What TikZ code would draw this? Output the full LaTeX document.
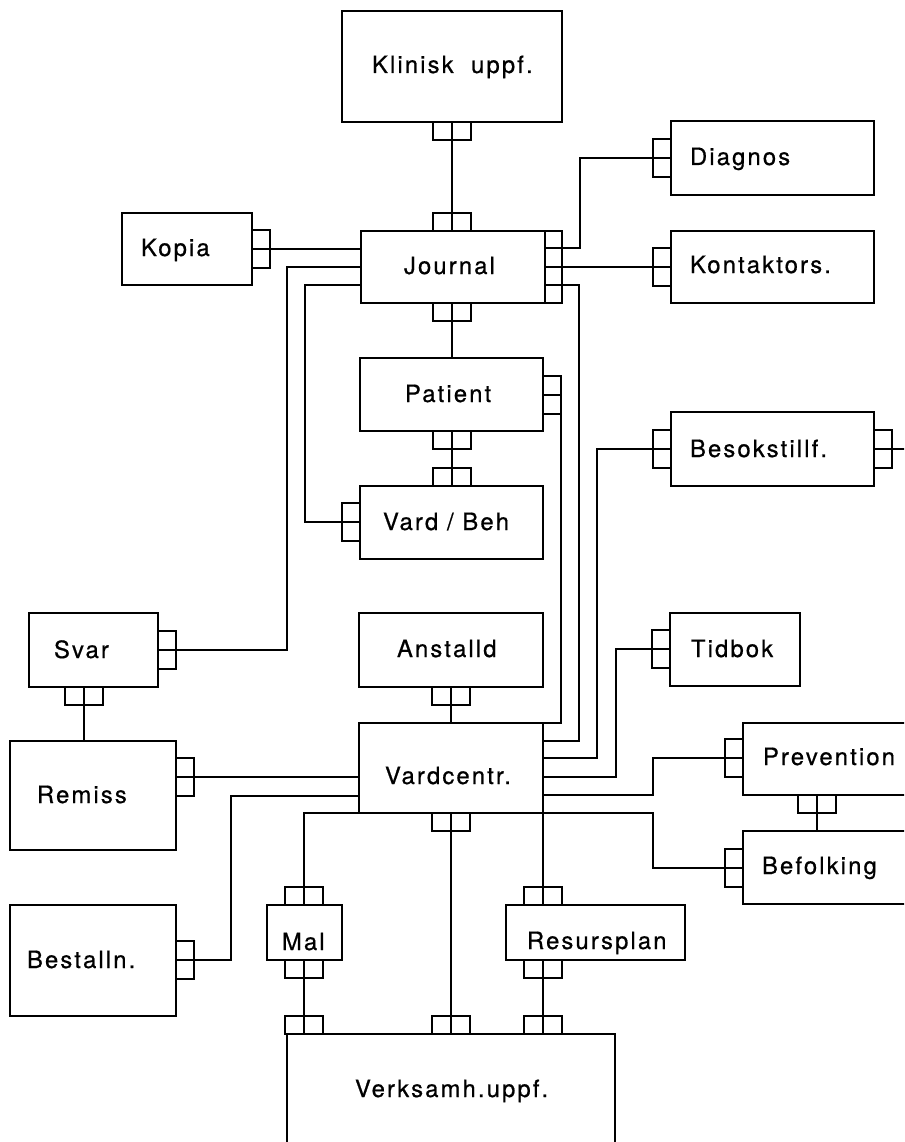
\documentclass[tikz,border=0pt]{standalone}
\usepackage{fontspec}
\setmainfont{TeX Gyre Heros}[LetterSpace=9,FakeBold=0.7]
\begin{document}
\begin{tikzpicture}[x=1pt,y=-1pt,line width=2.4pt,
  ent/.style 2 args={draw, rectangle, inner sep=0pt, outer sep=0pt,
    minimum width=#1, minimum height=#2},
  lbl/.style={inner sep=0pt, outer sep=0pt, anchor=base west,
    font=\fontsize{23.8}{28}\selectfont},
  ph/.style={draw, rectangle, inner sep=0pt, outer sep=0pt,
    minimum width=38pt, minimum height=18pt,
    path picture={\draw[line width=2.4pt] (path picture bounding box.north)
      -- (path picture bounding box.south);}},
  pv/.style={draw, rectangle, inner sep=0pt, outer sep=0pt,
    minimum width=18pt, minimum height=38pt,
    path picture={\draw[line width=2.4pt] (path picture bounding box.west)
      -- (path picture bounding box.east);}}
]
\fill[white] (0,0) rectangle (904,1142);
\useasboundingbox (0,0) rectangle (904,1142);
\clip (0,0) rectangle (904,1142);

% entity boxes
\node[ent={220pt}{111pt}] (klinisk) at (452,66.5) {};
\node[ent={130pt}{72pt}] (kopia) at (187,249) {};
\node[ent={201pt}{72pt}] (journal) at (461.5,267) {};
\node[ent={203pt}{74pt}] (diagnos) at (772.5,158) {};
\node[ent={203pt}{72pt}] (kontaktors) at (772.5,267) {};
\node[ent={183pt}{73pt}] (patient) at (451.5,394.5) {};
\node[ent={203pt}{74pt}] (besok) at (772.5,449) {};
\node[ent={183pt}{73pt}] (vardbeh) at (451.5,522.5) {};
\node[ent={129pt}{74pt}] (svar) at (93.5,650) {};
\node[ent={184pt}{74pt}] (anstalld) at (451,650) {};
\node[ent={130pt}{73pt}] (tidbok) at (735,649.5) {};
\node[ent={166pt}{109pt}] (remiss) at (93,795.5) {};
\node[ent={184pt}{90pt}] (vardcentr) at (451,768) {};
\node[ent={217pt}{72pt}] (prevention) at (851.5,759) {};
\node[ent={217pt}{73pt}] (befolking) at (851.5,867.5) {};
\node[ent={166pt}{111pt}] (bestalln) at (93,960.5) {};
\node[ent={75pt}{55pt}] (mal) at (304.5,932.5) {};
\node[ent={179pt}{55pt}] (resursplan) at (595.5,932.5) {};
\node[ent={328pt}{126pt}] (verksamh) at (451,1097) {};

% labels
\node[lbl] (t-klinisk) at (372,73) {Klinisk~~uppf.};
\node[lbl] (t-kopia) at (141,256) {Kopia};
\node[lbl] (t-journal) at (404,274) {Journal};
\node[lbl] (t-diagnos) at (690,165) {Diagnos};
\node[lbl] (t-kontaktors) at (690,273) {Kontaktors.};
\node[lbl] (t-patient) at (405,402) {Patient};
\node[lbl] (t-besok) at (690,457) {Besokstillf.};
\node[lbl] (t-vardbeh) at (383,530) {Vard / Beh};
\node[lbl] (t-svar) at (54,658) {Svar};
\node[lbl] (t-anstalld) at (397,657) {Anstalld};
\node[lbl] (t-tidbok) at (691,657) {Tidbok};
\node[lbl] (t-remiss) at (37,803) {Remiss};
\node[lbl] (t-vardcentr) at (385,784) {Vardcentr.};
\node[lbl] (t-prevention) at (763,765) {Prevention};
\node[lbl] (t-befolking) at (762,874) {Befolking};
\node[lbl] (t-bestalln) at (27,968) {Bestalln.};
\node[lbl] (t-mal) at (282,950) {Mal};
\node[lbl] (t-resursplan) at (527,949) {Resursplan};
\node[lbl] (t-verksamh) at (355,1097) {Verksamh.uppf.};

% connector symbols on top and bottom edges
\node[ph] (kl-s) at (452,131) {};
\node[ph] (jo-n) at (452,222) {};
\node[ph] (jo-s) at (452,312) {};
\node[ph] (pa-s) at (452,440) {};
\node[ph] (vb-n) at (452,477) {};
\node[ph] (an-s) at (451,696) {};
\node[ph] (vc-s) at (451,822) {};
\node[ph] (sv-s) at (84,696) {};
\node[ph] (pr-s) at (817,804) {};
\node[ph] (ma-n) at (304,896) {};
\node[ph] (ma-s) at (304,969) {};
\node[ph] (re-n) at (543,896) {};
\node[ph] (re-s) at (543,969) {};
\node[ph] (ve-n1) at (304,1025) {};
\node[ph] (ve-n2) at (451,1025) {};
\node[ph] (ve-n3) at (543,1025) {};

% connector symbols on side edges
\node[pv] (ko-e) at (261,249) {};
\node[pv] (di-w) at (662,158) {};
\node[pv] (kt-w) at (662,267) {};
\node[pv] (pa-e) at (552,395) {};
\node[pv] (vb-w) at (351,522) {};
\node[pv] (bs-w) at (662,449) {};
\node[pv] (bs-e) at (883,449) {};
\node[pv] (sv-e) at (167,650) {};
\node[pv] (rm-e) at (185,777) {};
\node[pv] (tb-w) at (661,649) {};
\node[pv] (pr-w) at (734,758) {};
\node[pv] (bf-w) at (734,868) {};
\node[pv] (be-e) at (185,960) {};
\node[draw, rectangle, inner sep=0pt, outer sep=0pt,
  minimum width=17pt, minimum height=72pt] (jo-e) at (553.5,267) {};
\coordinate (bs-out) at (930,449);

% relationships
\draw (kl-s.north) -- (jo-n.south);
\draw (jo-s.north) -- (jo-s.north |- patient.north);
\draw (pa-s.north) -- (vb-n.south);
\draw (an-s.north) -- (an-s.north |- vardcentr.north);
\draw (vc-s.north) -- (ve-n2.south);
\draw (ko-e.east) -- (ko-e.east -| journal.west);
\draw (journal.west) -- ++(-74,0) |- (sv-e.east);
\draw ([yshift=-18pt]journal.west) -- ++(-56,0) |- (vb-w.west);
\draw ([yshift=19pt]jo-e.west) -- ++(35,0) |- (di-w.west);
\draw (jo-e.west) -- (jo-e.west -| kt-w.west);
\draw ([yshift=-18pt]jo-e.west) -- ++(34,0) |- ([yshift=27pt]vardcentr.east);
\draw (pa-e.south east) |- (vardcentr.north east);
\draw (bs-w.west) -- ++(-56,0) |- ([yshift=10pt]vardcentr.east);
\draw (bs-e.east) -- (bs-out);
\draw (tb-w.west) -- ++(-36,0) |- ([yshift=-9pt]vardcentr.east);
\draw ([yshift=-27pt]vardcentr.east) -- ++(110,0) |- (pr-w.west);
\draw (vardcentr.south east) -- ++(110,0) |- (bf-w.west);
\draw (pr-s.north) -- (pr-s.north |- befolking.north);
\draw (rm-e.east) -- (rm-e.east -| vardcentr.west);
\draw ([yshift=-28pt]vardcentr.west) -- ++(-128,0) |- (be-e.east);
\draw (vardcentr.south west) -| (ma-n.north);
\draw (vardcentr.south east) -- (re-n.north);
\draw (ma-s.south) -- (ve-n1.north);
\draw (re-s.south) -- (ve-n3.north);
\draw (sv-s.south) -- (sv-s.south |- remiss.north);
\end{tikzpicture}
\end{document}
